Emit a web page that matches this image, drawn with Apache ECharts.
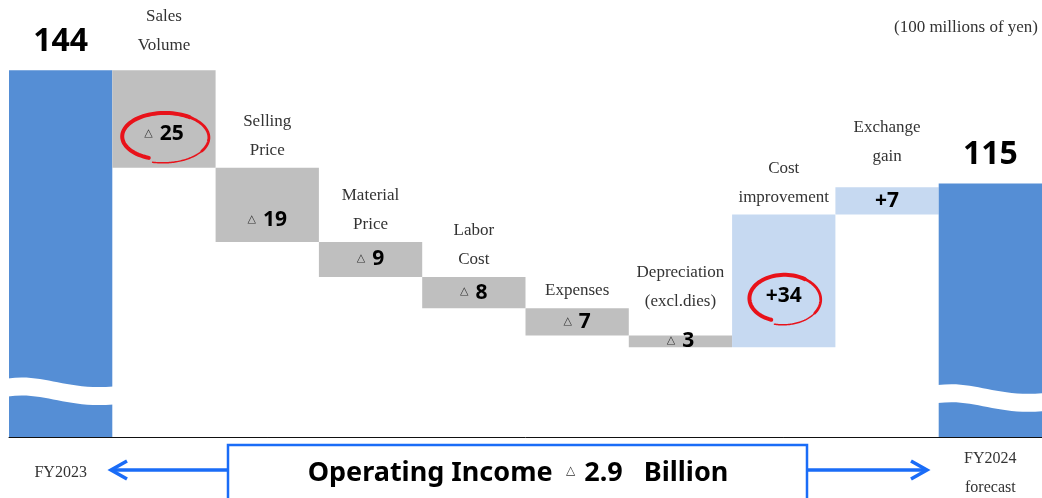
<!DOCTYPE html>
<html>
<head>
<meta charset="utf-8">
<script src="https://cdn.jsdelivr.net/npm/echarts@6/dist/echarts.min.js"></script>
<style>
  html, body { margin: 0; padding: 0; background: #fff; }
  #chart { width: 1042px; height: 498px; }
</style>
</head>
<body>
<div id="chart"></div>
<script>
const categories = ['FY2023', 'Sales\nVolume', 'Selling\nPrice', 'Material\nPrice', 'Labor\nCost', 'Expenses', 'Depreciation\n(excl.dies)', 'Cost\nimprovement', 'Exchange\ngain', 'FY2024\nforecast']
// totals only at both ends, changes in between (100 millions of yen)
const totals = [144, null, null, null, null, null, null, null, null, 115]
const changes = [null, -25, -19, -9, -8, -7, -3, 34, 7, null]
const circled = [1, 7]
// level where the white break wave crosses the two total bars
const breakLevels = [65, 63.3]

const TOTAL_COLOR = '#558ED5'
const DOWN_COLOR = '#BFBFBF'
const UP_COLOR = '#C6D9F1'
const BLUE_LINE = '#1A6CF7'
const RING_COLOR = '#E8121A'
const NAME_FONT = '"Liberation Serif", serif'
const BOLD_FONT = '"Noto Sans", sans-serif'

const last = categories.length - 1
const base = []
const size = []
let level = 0
categories.forEach((c, i) => {
  if (totals[i] != null) {
    base.push(0)
    size.push(totals[i])
    level = totals[i]
  } else {
    const d = changes[i]
    base.push(d < 0 ? level + d : level)
    size.push(Math.abs(d))
    level += d
  }
})

const labelShift = (i) => (size[i] >= 15 ? 15 : 0)

const barData = size.map((v, i) => {
  if (totals[i] != null) {
    return {
      value: v,
      itemStyle: { color: TOTAL_COLOR },
      label: {
        show: true,
        position: 'top',
        distance: 12,
        formatter: String(v),
        fontFamily: BOLD_FONT,
        fontWeight: 'bold',
        fontSize: 32,
        color: '#000',
      },
    }
  }
  const d = changes[i]
  return {
    value: v,
    itemStyle: { color: d < 0 ? DOWN_COLOR : UP_COLOR },
    label: {
      show: true,
      position: 'inside',
      offset: [0, labelShift(i)],
      formatter: d < 0 ? `{t|\u25b3}{n|${-d}}` : `{n|+${d}}`,
      rich: {
        t: { fontFamily: '"DejaVu Sans", sans-serif', fontSize: 11, color: '#333', padding: [0, 7, 2, 0] },
        n: { fontFamily: BOLD_FONT, fontWeight: 'bold', fontSize: 21, color: '#000' },
      },
    },
  }
})

const nameData = []
for (let i = 1; i < last; i++) nameData.push([i, base[i] + size[i]])

const ringData = circled.map((i) => [i, base[i] + size[i] / 2])

const chart = echarts.init(document.getElementById('chart'))
chart.setOption({
  animation: false,
  grid: { left: 9, right: 0, top: 0, bottom: 61, containLabel: false, outerBoundsMode: 'none' },
  xAxis: {
    type: 'category',
    data: categories,
    axisLine: { lineStyle: { color: '#111', width: 1 } },
    axisTick: { show: false },
    axisLabel: {
      interval: 0,
      margin: 36,
      verticalAlign: 'middle',
      lineHeight: 29,
      fontFamily: NAME_FONT,
      fontSize: 16,
      color: '#333',
      formatter: (v, i) => (i === 0 || i === last ? v : ''),
    },
  },
  yAxis: { type: 'value', min: 50, max: 162, show: false, splitLine: { show: false } },
  series: [
    {
      name: 'base',
      type: 'bar',
      stack: 'w',
      silent: true,
      itemStyle: { color: 'transparent' },
      data: base,
    },
    {
      name: 'change',
      type: 'bar',
      stack: 'w',
      barCategoryGap: '0%',
      data: barData,
    },
    {
      name: 'break',
      type: 'custom',
      z: 5,
      silent: true,
      data: [[0, breakLevels[0]], [last, breakLevels[1]]],
      renderItem: (params, api) => {
        const pt = api.coord([api.value(0), api.value(1)])
        const w = api.size([1, 0])[0] + 2
        const x0 = pt[0] - w / 2
        const x1 = pt[0] + w / 2
        const y = pt[1]
        const t = 18
        const d = `M${x0} ${y} C${x0 + 0.35 * w} ${y - 5} ${x0 + 0.55 * w} ${y + 12} ${x1} ${y + 8}` +
          ` L${x1} ${y + 8 + t} C${x0 + 0.55 * w} ${y + 12 + t} ${x0 + 0.35 * w} ${y - 5 + t} ${x0} ${y + t} Z`
        return { type: 'path', shape: { pathData: d }, style: { fill: '#fff' } }
      },
    },
    {
      name: 'names',
      type: 'custom',
      z: 6,
      silent: true,
      data: nameData,
      renderItem: (params, api) => {
        const i = api.value(0)
        const pt = api.coord([i, api.value(1)])
        const lift = { 1: 10, 6: 20, 8: 16 }[i] ?? 3
        return {
          type: 'text',
          x: pt[0],
          y: pt[1] - lift,
          style: {
            text: categories[i],
            align: 'center',
            verticalAlign: 'bottom',
            lineHeight: 29,
            fontFamily: NAME_FONT,
            fontSize: 17,
            fill: '#333',
          },
        }
      },
    },
    {
      name: 'rings',
      type: 'custom',
      z: 7,
      silent: true,
      data: ringData,
      renderItem: (params, api) => {
        const i = api.value(0)
        const pt = api.coord([i, api.value(1)])
        const cx = pt[0]
        const cy = pt[1] + labelShift(i) + 3
        const rx = i === 1 ? 45 : 37
        const ry = 25
        const pts = (from, to) => {
          const out = []
          for (let k = 0; k <= 48; k++) {
            const t = from + (to - from) * k / 48
            const a = (112 + 352 * t) * Math.PI / 180
            const s = 0.9 + 0.14 * t
            out.push([cx + rx * s * Math.cos(a), cy + ry * s * Math.sin(a)])
          }
          return out
        }
        return {
          type: 'group',
          children: [
            { type: 'polyline', shape: { points: pts(0, 0.55) }, style: { stroke: RING_COLOR, lineWidth: 4, fill: null, lineCap: 'round' } },
            { type: 'polyline', shape: { points: pts(0.53, 0.8) }, style: { stroke: RING_COLOR, lineWidth: 2.8, fill: null, lineCap: 'round' } },
            { type: 'polyline', shape: { points: pts(0.78, 1) }, style: { stroke: RING_COLOR, lineWidth: 1.5, fill: null, lineCap: 'round' } },
          ],
        }
      },
    },
  ],
  graphic: [
    {
      type: 'text',
      right: 4,
      top: 19,
      style: { text: '(100 millions of yen)', fontFamily: NAME_FONT, fontSize: 17, fill: '#333' },
    },
    {
      type: 'rect',
      shape: { x: 228, y: 445, width: 579, height: 62 },
      style: { fill: '#fff', stroke: BLUE_LINE, lineWidth: 2.5 },
    },
    {
      type: 'text',
      x: 518,
      y: 473,
      style: {
        text: '{b|Operating Income}{s|    }{t|\u25b3}{b| 2.9   Billion}',
        align: 'center',
        verticalAlign: 'middle',
        rich: {
          b: { fontFamily: BOLD_FONT, fontWeight: 'bold', fontSize: 27, fill: '#000' },
          s: { fontSize: 12 },
          t: { fontFamily: '"DejaVu Sans", sans-serif', fontSize: 12, fill: '#333', padding: [0, 2, 4, 0] },
        },
      },
    },
    {
      type: 'polyline',
      shape: { points: [[228, 470], [111, 470]] },
      style: { stroke: BLUE_LINE, lineWidth: 3.5, fill: null },
    },
    {
      type: 'polyline',
      shape: { points: [[127, 461], [111, 470], [127, 479]] },
      style: { stroke: BLUE_LINE, lineWidth: 3.5, fill: null },
    },
    {
      type: 'polyline',
      shape: { points: [[807, 470], [927, 470]] },
      style: { stroke: BLUE_LINE, lineWidth: 3.5, fill: null },
    },
    {
      type: 'polyline',
      shape: { points: [[911, 461], [927, 470], [911, 479]] },
      style: { stroke: BLUE_LINE, lineWidth: 3.5, fill: null },
    },
  ],
})
</script>
</body>
</html>
